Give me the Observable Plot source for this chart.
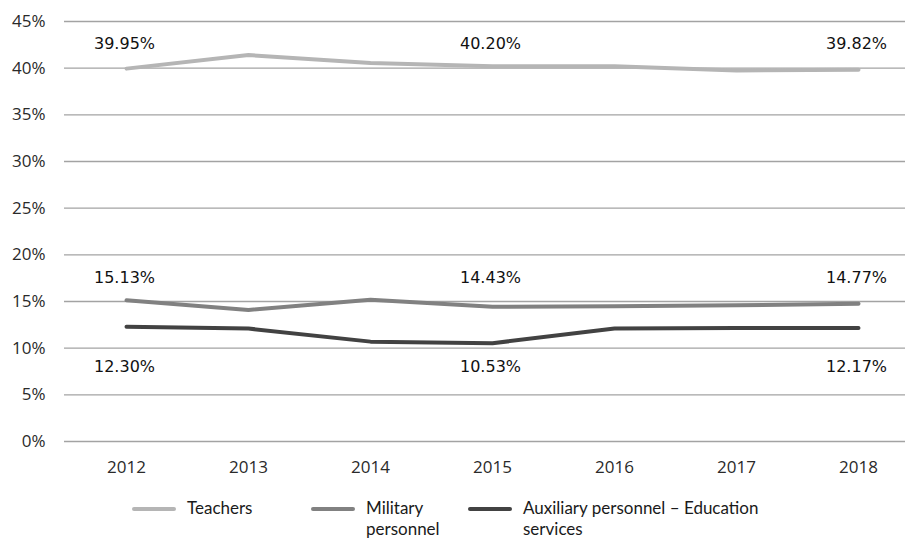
<!DOCTYPE html>
<html>
<head>
<meta charset="utf-8">
<script src="https://cdn.jsdelivr.net/npm/d3@7"></script>
<script src="https://cdn.jsdelivr.net/npm/@observablehq/plot@0.6"></script>
<style>
  html, body { margin: 0; padding: 0; background: #fff; }
  #wrap { position: relative; width: 908px; height: 540px; overflow: hidden; }
  #legend { position: absolute; left: 0; top: 0; width: 908px; height: 540px; pointer-events: none; }
  .item { position: absolute; top: 498px; display: flex; align-items: flex-start; font-family: Lato, "Open Sans", sans-serif; font-size: 17px; color: #1a1a1a; line-height: 20.5px; }
  .sw { flex: none; width: 44px; height: 4px; margin-top: 9px; margin-right: 11px; border-radius: 2px; }
</style>
</head>
<body>
<div id="wrap"><div id="chart"></div><div id="legend"></div></div>
<script>
const years = [2012, 2013, 2014, 2015, 2016, 2017, 2018];
const seriesNames = ["Teachers", "Military personnel", "Auxiliary personnel – Education services"];
const teachers = [39.95, 41.40, 40.55, 40.20, 40.20, 39.75, 39.82];
const military = [15.13, 14.10, 15.20, 14.43, 14.50, 14.60, 14.77];
const auxiliary = [12.30, 12.10, 10.70, 10.53, 12.10, 12.15, 12.17];
const labelYears = [2012, 2015, 2018];
const yTicks = [0, 5, 10, 15, 20, 25, 30, 35, 40, 45];

const colors = ["#b5b5b5", "#818181", "#424242"];
const labelOffsetFromTop = [22, 256, 345];
const allValues = [teachers, military, auxiliary];

const data = [];
seriesNames.forEach((s, i) => {
  years.forEach((yr, j) => data.push({series: s, year: yr, value: allValues[i][j], idx: i}));
});

const marks = [
  Plot.ruleY(yTicks, {stroke: "#a3a3a3", strokeWidth: 1.4}),
  Plot.axisY({ticks: yTicks, tickSize: 0, tickPadding: 19, tickFormat: d => d + "%", fontSize: 17, fill: "#2a2a2a"}),
  Plot.axisX({tickSize: 0, tickPadding: 19, tickFormat: d => String(d), fontSize: 17, fill: "#2a2a2a"})
];
seriesNames.forEach((s, i) => {
  const d = data.filter(r => r.idx === i);
  marks.push(Plot.line(d, {x: "year", y: "value", stroke: colors[i], strokeWidth: 4, curve: "linear"}));
});
seriesNames.forEach((s, i) => {
  const d = data.filter(r => r.idx === i && labelYears.includes(r.year));
  marks.push(Plot.text(d, {x: "year", frameAnchor: "top", text: r => r.value.toFixed(2) + "%",
    dy: labelOffsetFromTop[i], dx: -2, lineAnchor: "middle",
    fontSize: 16, fill: "#111", fontFamily: "DejaVu Sans, sans-serif"}));
});

const chart = Plot.plot({
  width: 908,
  height: 492,
  marginLeft: 64,
  marginRight: 3,
  marginTop: 21,
  marginBottom: 51,
  style: {fontFamily: "'Open Sans', sans-serif", background: "#fff", overflow: "visible"},
  x: {type: "point", domain: years, range: [125, 858], padding: 0, label: null},
  y: {domain: [0, 45], label: null},
  marks
});
document.getElementById("chart").appendChild(chart);

const legendLefts = [132, 311, 468];
const legendWidths = [170, 150, 340];
const legendTexts = ["Teachers", "Military<br>personnel", "Auxiliary personnel – Education<br>services"];
const lg = document.getElementById("legend");
seriesNames.forEach((s, i) => {
  const it = document.createElement("div");
  it.className = "item";
  it.style.left = legendLefts[i] + "px";
  it.style.width = legendWidths[i] + "px";
  it.innerHTML = `<div class="sw" style="background:${colors[i]}"></div><div>${legendTexts[i]}</div>`;
  lg.appendChild(it);
});
</script>
</body>
</html>
